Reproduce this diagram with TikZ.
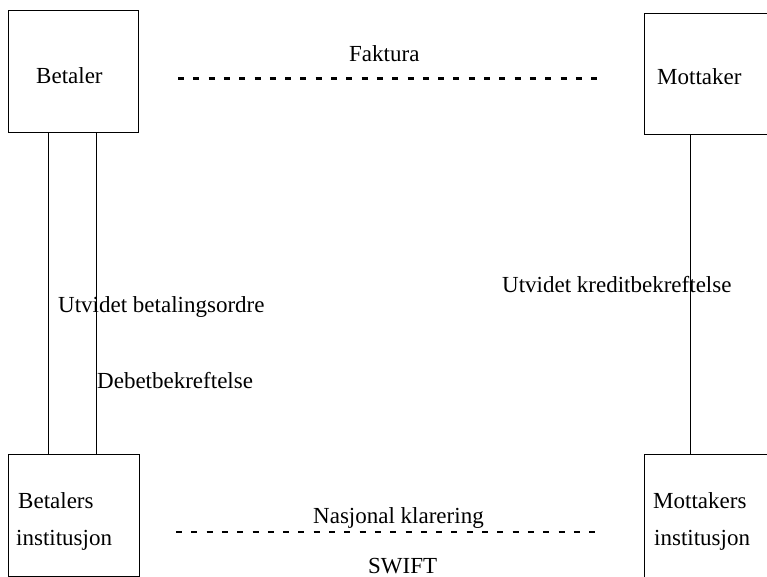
\documentclass[tikz,border=0pt]{standalone}
\usepackage{fontspec}
\setmainfont{Liberation Serif}
\begin{document}
\begin{tikzpicture}[x=1pt,y=-1pt,
  box/.style={draw,line width=0.9pt,rectangle,inner sep=0pt},
  lbl/.style={anchor=base west,inner sep=0pt,font=\fontsize{23}{27}\selectfont},
  link/.style={line width=0.9pt},
  dashtop/.style={line width=3pt,dash pattern=on 6pt off 9.3pt},
  dashbot/.style={line width=2pt,dash pattern=on 6pt off 9.3pt}]
\useasboundingbox (0,0) rectangle (767,577);
\clip (0,0) rectangle (767,577);
% boxes
\node[box,minimum width=130pt,minimum height=122pt] (b) at (73,71) {};
\node[box,minimum width=140pt,minimum height=121pt] (m) at (714,73.5) {};
\node[box,minimum width=131pt,minimum height=122pt] (bi) at (73.5,515.5) {};
\node[box,minimum width=140pt,minimum height=123pt] (mi) at (714,515.5) {};
% texts in boxes
\node[lbl] (tb) at (36,84) {Betaler};
\node[lbl] (tm) at (657,85) {Mottaker};
\node[lbl] (tbi1) at (18,508) {Betalers};
\node[lbl] (tbi2) at (16,545) {institusjon};
\node[lbl] (tmi1) at (653,508) {Mottakers};
\node[lbl] (tmi2) at (654,545) {institusjon};
% connectors
\draw[link] (b.south -| 48,0) -- (bi.north -| 48,0);
\draw[link] (b.south -| 96,0) -- (bi.north -| 96,0);
\draw[link] (m.south -| 690,0) -- (mi.north -| 690,0);
% dashed links
\coordinate (f1) at (178,79);
\coordinate (f2) at (599,79);
\coordinate (n1) at (176,532);
\coordinate (n2) at (600,532);
\draw[dashtop] (f1) -- (f2);
\draw[dashbot] (n1) -- (n2);
% labels
\node[lbl] (faktura) at (349,62) {Faktura};
\node[lbl] (ubo) at (58,312) {Utvidet betalingsordre};
\node[lbl] (debet) at (97,388) {Debetbekreftelse};
\node[lbl] (ukb) at (502,292) {Utvidet kreditbekreftelse};
\node[lbl] (nk) at (313,523) {Nasjonal klarering};
\node[lbl] (swift) at (368,573) {SWIFT};
\end{tikzpicture}
\end{document}
